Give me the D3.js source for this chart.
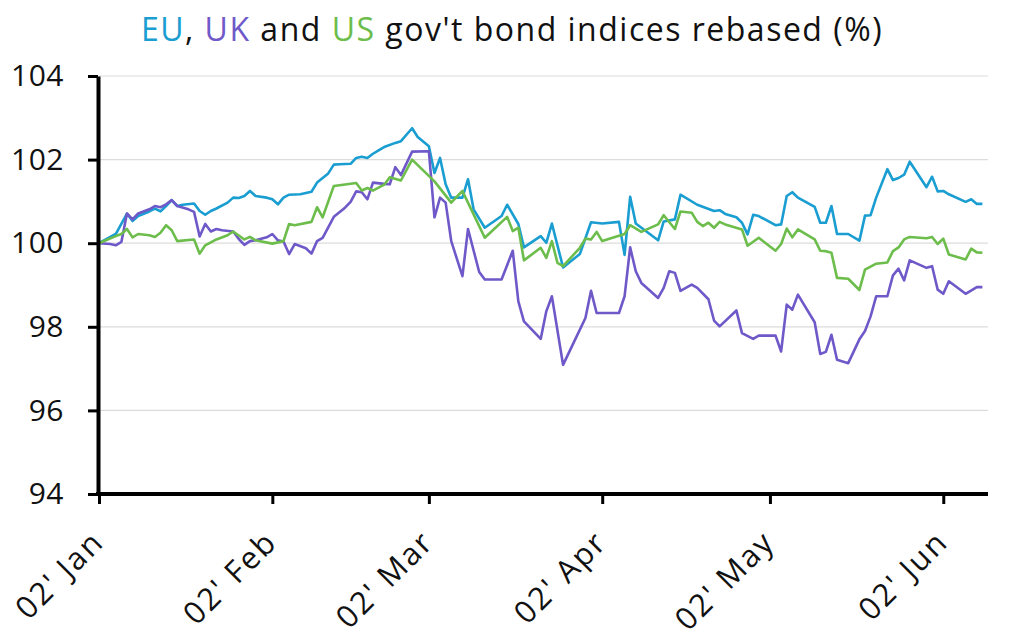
<!DOCTYPE html>
<html>
<head>
<meta charset="utf-8">
<script src="https://cdn.jsdelivr.net/npm/d3@7"></script>
<style>
  body { margin: 0; background: #fff; }
  text { font-family: "Open Sans", "Noto Sans", sans-serif; }
</style>
</head>
<body>
<div id="chart"></div>
<script>
// values, one [date, index] pair per vertex
var eu = [
  ["2021-01-02",100.00],["2021-01-05",100.22],["2021-01-07",100.71],["2021-01-08",100.53],["2021-01-09",100.65],
  ["2021-01-11",100.76],["2021-01-12",100.83],["2021-01-13",100.76],["2021-01-14",100.89],["2021-01-15",101.03],
  ["2021-01-16",100.89],["2021-01-17",100.92],["2021-01-19",100.95],["2021-01-20",100.77],["2021-01-21",100.68],
  ["2021-01-22",100.77],["2021-01-23",100.83],["2021-01-25",100.97],["2021-01-26",101.09],["2021-01-27",101.08],
  ["2021-01-28",101.13],["2021-01-29",101.25],["2021-01-30",101.13],["2021-02-01",101.09],["2021-02-02",101.05],
  ["2021-02-03",100.93],["2021-02-04",101.09],["2021-02-05",101.16],["2021-02-07",101.17],["2021-02-09",101.23],
  ["2021-02-10",101.45],["2021-02-11",101.56],["2021-02-12",101.67],["2021-02-13",101.88],["2021-02-14",101.89],
  ["2021-02-16",101.90],["2021-02-17",102.04],["2021-02-18",102.07],["2021-02-19",102.04],["2021-02-20",102.14],
  ["2021-02-21",102.22],["2021-02-22",102.30],["2021-02-24",102.40],["2021-02-25",102.44],["2021-02-27",102.75],
  ["2021-02-28",102.54],["2021-03-02",102.32],["2021-03-03",101.68],["2021-03-04",102.04],["2021-03-05",101.41],
  ["2021-03-06",101.09],["2021-03-08",101.09],["2021-03-09",101.53],["2021-03-10",100.81],["2021-03-12",100.37],
  ["2021-03-15",100.65],["2021-03-16",100.92],["2021-03-18",100.46],["2021-03-19",99.90],["2021-03-22",100.17],
  ["2021-03-23",100.01],["2021-03-24",100.47],["2021-03-26",99.42],["2021-03-29",99.74],["2021-03-31",100.50],
  ["2021-04-02",100.47],["2021-04-05",100.51],["2021-04-06",99.72],["2021-04-07",101.11],["2021-04-08",100.47],
  ["2021-04-12",100.07],["2021-04-13",100.52],["2021-04-15",100.57],["2021-04-16",101.16],["2021-04-19",100.92],
  ["2021-04-22",100.77],["2021-04-23",100.79],["2021-04-24",100.70],["2021-04-26",100.62],["2021-04-27",100.49],
  ["2021-04-28",100.21],["2021-04-29",100.68],["2021-04-30",100.65],["2021-05-03",100.43],["2021-05-04",100.45],
  ["2021-05-05",101.13],["2021-05-06",101.22],["2021-05-07",101.09],["2021-05-10",100.87],["2021-05-11",100.49],
  ["2021-05-12",100.49],["2021-05-13",100.89],["2021-05-14",100.22],["2021-05-16",100.22],["2021-05-18",100.06],
  ["2021-05-19",100.66],["2021-05-20",100.67],["2021-05-21",101.09],["2021-05-23",101.77],["2021-05-24",101.51],
  ["2021-05-25",101.56],["2021-05-26",101.64],["2021-05-27",101.95],["2021-05-30",101.34],["2021-05-31",101.59],
  ["2021-06-01",101.24],["2021-06-02",101.25],["2021-06-03",101.17],["2021-06-06",100.99],["2021-06-07",101.05],
  ["2021-06-08",100.94],["2021-06-09",100.94]
];

var uk = [
  ["2021-01-02",100.00],["2021-01-04",99.98],["2021-01-05",99.95],["2021-01-06",100.03],["2021-01-07",100.71],
  ["2021-01-08",100.57],["2021-01-09",100.71],["2021-01-11",100.81],["2021-01-12",100.89],["2021-01-13",100.86],
  ["2021-01-14",100.93],["2021-01-15",101.03],["2021-01-16",100.89],["2021-01-18",100.81],["2021-01-19",100.75],
  ["2021-01-20",100.16],["2021-01-21",100.46],["2021-01-22",100.28],["2021-01-23",100.34],["2021-01-24",100.31],
  ["2021-01-26",100.28],["2021-01-27",100.10],["2021-01-28",99.96],["2021-01-29",100.05],["2021-01-30",100.07],
  ["2021-02-01",100.14],["2021-02-02",100.22],["2021-02-03",100.07],["2021-02-04",100.04],["2021-02-05",99.74],
  ["2021-02-06",99.98],["2021-02-08",99.88],["2021-02-09",99.75],["2021-02-10",100.05],["2021-02-11",100.13],
  ["2021-02-13",100.63],["2021-02-15",100.85],["2021-02-16",100.99],["2021-02-17",101.24],["2021-02-18",101.22],
  ["2021-02-19",101.05],["2021-02-20",101.45],["2021-02-22",101.42],["2021-02-23",101.41],["2021-02-24",101.82],
  ["2021-02-25",101.63],["2021-02-27",102.19],["2021-03-02",102.20],["2021-03-03",100.62],["2021-03-04",101.09],
  ["2021-03-05",100.97],["2021-03-06",100.05],["2021-03-08",99.21],["2021-03-09",100.34],["2021-03-11",99.31],
  ["2021-03-12",99.13],["2021-03-15",99.13],["2021-03-17",99.82],["2021-03-18",98.61],["2021-03-19",98.13],
  ["2021-03-22",97.71],["2021-03-23",98.37],["2021-03-24",98.73],["2021-03-26",97.09],["2021-03-28",97.65],
  ["2021-03-30",98.21],["2021-03-31",98.86],["2021-04-01",98.33],["2021-04-05",98.33],["2021-04-06",98.73],
  ["2021-04-07",99.90],["2021-04-08",99.33],["2021-04-09",99.05],["2021-04-12",98.69],["2021-04-13",98.93],
  ["2021-04-14",99.33],["2021-04-15",99.29],["2021-04-16",98.86],["2021-04-18",99.01],["2021-04-19",98.93],
  ["2021-04-21",98.66],["2021-04-22",98.15],["2021-04-23",98.01],["2021-04-26",98.39],["2021-04-27",97.85],
  ["2021-04-29",97.71],["2021-04-30",97.79],["2021-05-03",97.79],["2021-05-04",97.41],["2021-05-05",98.53],
  ["2021-05-06",98.41],["2021-05-07",98.77],["2021-05-10",98.11],["2021-05-11",97.35],["2021-05-12",97.40],
  ["2021-05-13",97.81],["2021-05-14",97.21],["2021-05-16",97.13],["2021-05-18",97.70],["2021-05-19",97.90],
  ["2021-05-20",98.25],["2021-05-21",98.73],["2021-05-23",98.73],["2021-05-24",99.23],["2021-05-25",99.39],
  ["2021-05-26",99.11],["2021-05-27",99.59],["2021-05-30",99.41],["2021-05-31",99.45],["2021-06-01",98.89],
  ["2021-06-02",98.79],["2021-06-03",99.09],["2021-06-06",98.79],["2021-06-08",98.95],["2021-06-09",98.95]
];

var us = [
  ["2021-01-02",100.00],["2021-01-05",100.17],["2021-01-06",100.22],["2021-01-07",100.34],["2021-01-08",100.14],
  ["2021-01-09",100.22],["2021-01-11",100.19],["2021-01-12",100.15],["2021-01-13",100.25],["2021-01-14",100.43],
  ["2021-01-15",100.31],["2021-01-16",100.05],["2021-01-19",100.09],["2021-01-20",99.75],["2021-01-21",99.95],
  ["2021-01-23",100.09],["2021-01-25",100.19],["2021-01-26",100.28],["2021-01-28",100.09],["2021-01-29",100.15],
  ["2021-01-30",100.07],["2021-02-02",99.99],["2021-02-04",100.05],["2021-02-05",100.46],["2021-02-06",100.43],
  ["2021-02-09",100.51],["2021-02-10",100.86],["2021-02-11",100.62],["2021-02-13",101.37],["2021-02-17",101.44],
  ["2021-02-18",101.26],["2021-02-19",101.32],["2021-02-20",101.26],["2021-02-22",101.40],["2021-02-23",101.58],
  ["2021-02-25",101.50],["2021-02-27",102.00],["2021-03-03",101.48],["2021-03-06",100.97],["2021-03-08",101.25],
  ["2021-03-10",100.69],["2021-03-12",100.13],["2021-03-16",100.63],["2021-03-17",100.29],["2021-03-18",100.37],
  ["2021-03-19",99.59],["2021-03-22",99.89],["2021-03-23",99.65],["2021-03-24",100.05],["2021-03-25",99.53],
  ["2021-03-26",99.45],["2021-03-29",99.89],["2021-03-30",100.11],["2021-03-31",100.09],["2021-04-01",100.27],
  ["2021-04-02",100.05],["2021-04-06",100.22],["2021-04-07",100.43],["2021-04-09",100.27],["2021-04-12",100.45],
  ["2021-04-13",100.67],["2021-04-15",100.34],["2021-04-16",100.76],["2021-04-18",100.73],["2021-04-19",100.51],
  ["2021-04-20",100.41],["2021-04-21",100.49],["2021-04-22",100.37],["2021-04-23",100.51],["2021-04-24",100.45],
  ["2021-04-27",100.33],["2021-04-28",99.94],["2021-04-30",100.13],["2021-05-03",99.82],["2021-05-04",99.98],
  ["2021-05-05",100.35],["2021-05-06",100.14],["2021-05-07",100.33],["2021-05-10",100.09],["2021-05-11",99.82],
  ["2021-05-12",99.81],["2021-05-13",99.77],["2021-05-14",99.17],["2021-05-16",99.15],["2021-05-18",98.88],
  ["2021-05-19",99.37],["2021-05-21",99.51],["2021-05-23",99.54],["2021-05-24",99.81],["2021-05-25",99.90],
  ["2021-05-26",100.09],["2021-05-27",100.15],["2021-05-30",100.12],["2021-05-31",100.15],["2021-06-01",99.98],
  ["2021-06-02",100.11],["2021-06-03",99.73],["2021-06-06",99.61],["2021-06-07",99.87],["2021-06-08",99.78],
  ["2021-06-09",99.77]
];

var yTicks = [94, 96, 98, 100, 102, 104];
var xTicks = ["2021-01-02", "2021-02-02", "2021-03-02", "2021-04-02", "2021-05-02", "2021-06-02"];
var xDomain = ["2021-01-02", "2021-06-10"];

function buildChart(){
    var width = 1024;
    var height = 643;
    var margin = {top: 76, left: 99, right: 36, bottom: 149};

    var parse = d3.timeParse("%Y-%m-%d");
    var fmt = d3.timeFormat("%d' %b");

    var series = [
        {name: "EU", color: "#1a9dd0", data: eu},
        {name: "UK", color: "#6f59c9", data: uk},
        {name: "US", color: "#6cbd4b", data: us}
    ];

    var x = d3.scaleTime()
        .domain(xDomain.map(parse))
        .range([margin.left, width - margin.right]);

    var y = d3.scaleLinear()
        .domain([94, 104])
        .range([height - margin.bottom, margin.top]);

    var svg = d3.select("#chart")
        .append("svg")
        .attr("width", width)
        .attr("height", height)

    // title with coloured country names
    var title = svg.append("text")
        .attr("x", width / 2)
        .attr("y", 41)
        .attr("text-anchor", "middle")
        .attr("font-size", 32)
        .attr("letter-spacing", 1.5)
        .attr("fill", "#111")
    title.append("tspan").attr("fill", series[0].color).text("EU")
    title.append("tspan").text(", ")
    title.append("tspan").attr("fill", series[1].color).text("UK")
    title.append("tspan").text(" and ")
    title.append("tspan").attr("fill", series[2].color).text("US")
    title.append("tspan").text(" gov't bond indices rebased (%)")

    // gridlines
    svg.append("g")
        .selectAll("line")
        .data(yTicks.filter(function(d){ return d > 94 }))
        .enter()
        .append("line")
        .attr("x1", margin.left)
        .attr("x2", width - margin.right)
        .attr("y1", function(d){ return y(d) })
        .attr("y2", function(d){ return y(d) })
        .attr("stroke", "#dcdcdc")
        .attr("stroke-width", 1.2)

    var line = d3.line()
        .x(function(d){ return x(parse(d[0])) })
        .y(function(d){ return y(d[1]) });

    svg.append("g")
        .selectAll("path")
        .data(series)
        .enter()
        .append("path")
        .attr("d", function(d){ return line(d.data) })
        .attr("fill", "none")
        .attr("stroke", function(d){ return d.color })
        .attr("stroke-width", 2.6)
        .attr("stroke-linejoin", "round")

    var yAxis = svg.append("g")
        .attr("transform", "translate(" + (margin.left - 1) + ",0)")
        .call(d3.axisLeft(y).tickValues(yTicks).tickSize(10).tickSizeOuter(0).tickPadding(24))
    yAxis.select(".domain").attr("stroke", "#000").attr("stroke-width", 4)
    yAxis.selectAll(".tick line").attr("stroke", "#000").attr("stroke-width", 3)
    yAxis.selectAll(".tick text")
        .attr("font-size", 30)
        .attr("letter-spacing", 0.5)
        .attr("fill", "#111")
        .style("font-family", "'Open Sans', 'Noto Sans', sans-serif")

    var xAxis = svg.append("g")
        .attr("transform", "translate(0," + (height - margin.bottom) + ")")
        .call(d3.axisBottom(x).tickValues(xTicks.map(parse)).tickFormat(fmt).tickSize(10).tickSizeOuter(0))
    xAxis.select(".domain")
        .attr("stroke", "#000")
        .attr("stroke-width", 4)
        .attr("d", "M" + (margin.left - 3) + ",0H" + (width - margin.right))
    xAxis.selectAll(".tick line").attr("stroke", "#000").attr("stroke-width", 3)
    xAxis.selectAll(".tick text")
        .attr("font-size", 31)
        .attr("letter-spacing", 2)
        .attr("fill", "#111")
        .style("font-family", "'Open Sans', 'Noto Sans', sans-serif")
        .attr("text-anchor", "end")
        .attr("y", 0)
        .attr("dy", 0)
        .attr("transform", "translate(6,50) rotate(-45)")
}

buildChart();
</script>
</body>
</html>
